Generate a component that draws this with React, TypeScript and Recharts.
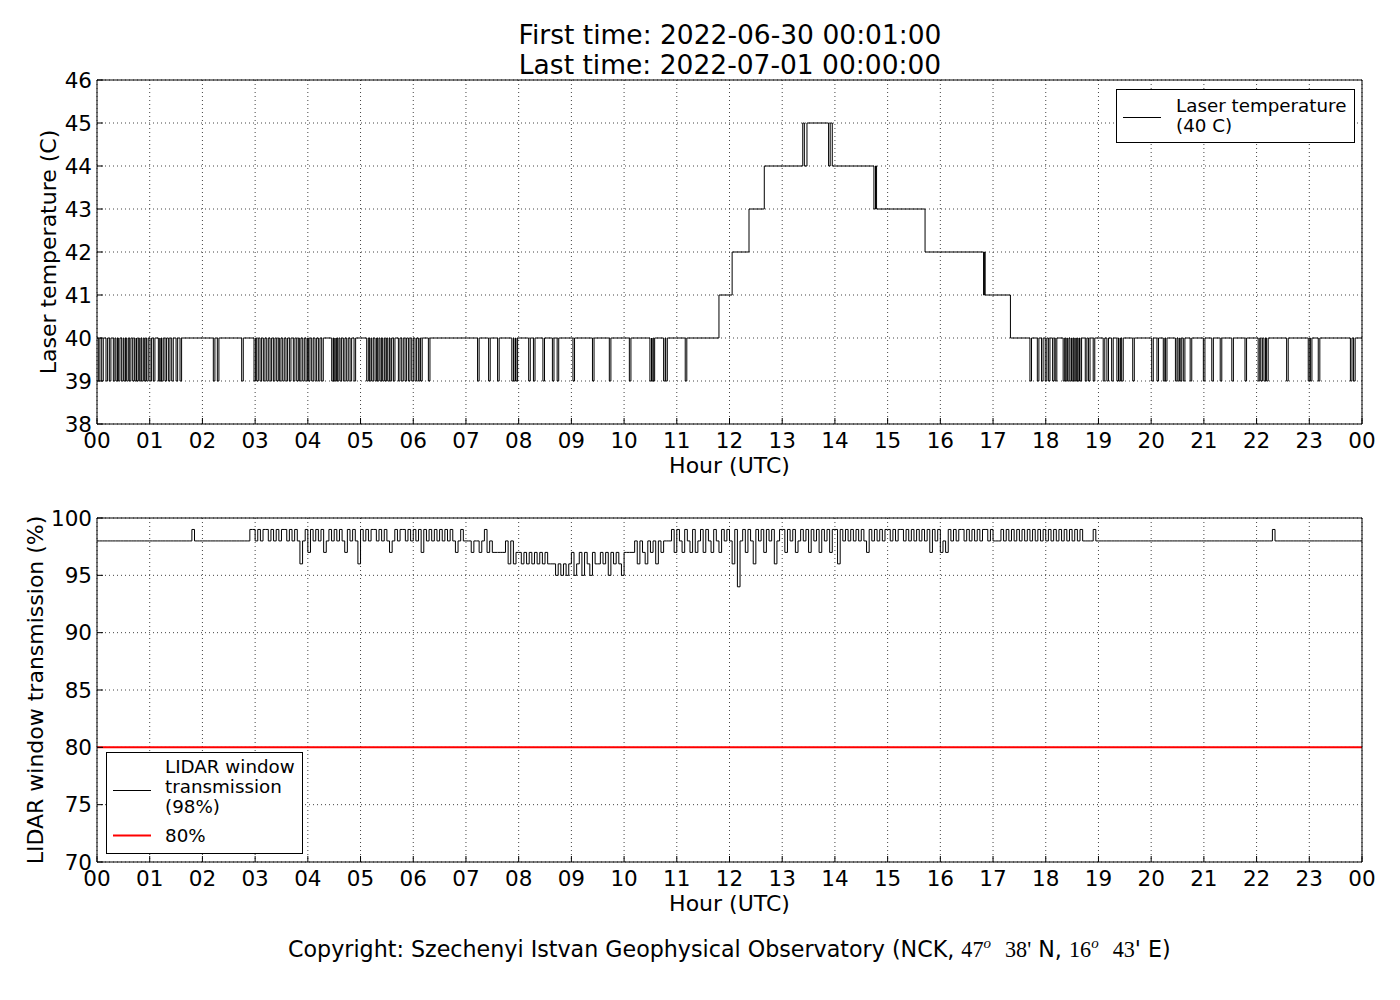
import {
  LineChart,
  Line,
  XAxis,
  YAxis,
  CartesianGrid,
  ReferenceLine,
  Legend
} from "recharts";

// x axis: hours of the day (UTC)
const hourTicks = [0, 1, 2, 3, 4, 5, 6, 7, 8, 9, 10, 11, 12, 13, 14, 15, 16, 17, 18, 19, 20, 21, 22, 23, 24];
const hourLabels = ["00", "01", "02", "03", "04", "05", "06", "07", "08", "09", "10", "11", "12", "13", "14", "15", "16", "17", "18", "19", "20", "21", "22", "23", "00"];

const tempTicks = [38, 39, 40, 41, 42, 43, 44, 45, 46];
const transTicks = [70, 75, 80, 85, 90, 95, 100];

// laser temperature sits at 40 C, these are the moments it flickers down to 39 C
const DIP_WIDTH = 0.03;
const tempDips = [
  0.025, 0.089, 0.171, 0.234, 0.31, 0.36, 0.405, 0.468, 0.512, 0.563, 0.613, 0.677, 0.721, 0.753,
  0.803, 0.848, 0.898, 0.942, 1.006, 1.069, 1.164, 1.195, 1.227, 1.29, 1.354, 1.417, 1.5, 1.575,
  2.207, 2.283, 2.745,
  2.979, 3.03, 3.093, 3.156, 3.22, 3.283, 3.346, 3.409, 3.46, 3.523, 3.586, 3.65, 3.725, 3.789,
  3.839, 3.903, 3.966, 4.01, 4.073, 4.137, 4.2, 4.263, 4.453, 4.484, 4.516, 4.56, 4.611, 4.674,
  4.737, 4.801, 4.877,
  5.117, 5.168, 5.212, 5.275, 5.319, 5.37, 5.42, 5.465, 5.516, 5.56, 5.623, 5.718, 5.781, 5.844,
  5.908, 5.971, 6.034, 6.097, 6.14, 6.287,
  7.22, 7.43, 7.6, 7.87, 7.91, 7.95, 8.19, 8.28, 8.46, 8.64, 8.73, 9.03, 9.4, 9.72, 10.1, 10.49,
  10.52, 10.55, 10.75, 10.79, 11.16,
  17.7, 17.84, 17.92, 17.99, 18.05, 18.13, 18.18, 18.33, 18.37, 18.41, 18.46, 18.5, 18.54, 18.58,
  18.61, 18.65, 18.75, 18.81, 18.9, 19.09, 19.16, 19.25, 19.35, 19.39, 19.44, 19.65, 20.01, 20.11,
  20.23, 20.27, 20.46, 20.51, 20.55, 20.61, 20.74, 20.99, 21.15, 21.31, 21.53, 21.78, 22.03, 22.08,
  22.14, 22.19, 22.57, 22.98, 23.02, 23.17, 23.78, 23.84
];

// midday warm-up: [hour, new temperature]
const tempSteps: [number, number][] = [
  [11.8, 41], [12.05, 42], [12.37, 43], [12.66, 44], [13.39, 45], [13.42, 44], [13.47, 45],
  [13.88, 44], [13.91, 45], [13.95, 44], [14.74, 43], [14.77, 44], [14.79, 43], [15.71, 42],
  [16.82, 41], [16.84, 42], [16.85, 41], [17.33, 40]
];

// window transmission (%), one row per hour, a reading every 3 minutes
const SAMPLE_STEP = 0.05;
const transmissionByHour = [
  [98, 98, 98, 98, 98, 98, 98, 98, 98, 98, 98, 98, 98, 98, 98, 98, 98, 98, 98, 98],
  [98, 98, 98, 98, 98, 98, 98, 98, 98, 98, 98, 98, 98, 98, 98, 98, 99, 98, 98, 98],
  [98, 98, 98, 98, 98, 98, 98, 98, 98, 98, 98, 98, 98, 98, 98, 98, 98, 98, 99, 99],
  [98, 99, 98, 99, 99, 98, 99, 98, 99, 98, 99, 99, 98, 99, 98, 99, 98, 96, 98, 99],
  [97, 99, 98, 99, 98, 99, 97, 98, 99, 98, 99, 98, 99, 98, 97, 99, 98, 99, 98, 96],
  [99, 98, 99, 98, 99, 99, 98, 99, 98, 99, 98, 97, 98, 99, 98, 99, 99, 98, 99, 98],
  [99, 98, 99, 97, 99, 98, 99, 98, 99, 98, 99, 98, 99, 98, 99, 98, 97, 98, 99, 98],
  [98, 98, 97, 98, 98, 97, 98, 99, 97, 98, 97, 97, 97, 97, 97, 98, 96, 98, 96, 97],
  [97, 96, 97, 96, 97, 96, 97, 96, 97, 96, 97, 96, 96, 96, 95, 96, 95, 96, 95, 96],
  [97, 95, 96, 97, 95, 97, 96, 95, 97, 96, 96, 97, 96, 97, 95, 97, 96, 97, 96, 95],
  [97, 97, 97, 97, 98, 96, 98, 97, 96, 98, 97, 98, 96, 98, 97, 98, 98, 98, 99, 97],
  [99, 98, 97, 99, 98, 97, 99, 97, 98, 99, 97, 99, 98, 97, 99, 98, 97, 99, 98, 99],
  [98, 96, 99, 94, 98, 99, 97, 99, 98, 96, 99, 98, 99, 97, 99, 98, 99, 96, 98, 99],
  [99, 97, 99, 98, 99, 97, 98, 99, 98, 99, 97, 99, 98, 99, 97, 99, 98, 99, 97, 99],
  [99, 96, 99, 98, 99, 98, 99, 98, 99, 98, 99, 98, 97, 99, 98, 99, 98, 99, 98, 99],
  [99, 98, 99, 98, 99, 99, 98, 99, 98, 99, 98, 99, 98, 99, 98, 99, 97, 99, 98, 99],
  [97, 98, 97, 99, 98, 99, 98, 99, 99, 98, 99, 98, 99, 98, 99, 98, 99, 99, 98, 99],
  [98, 98, 98, 99, 98, 99, 98, 99, 98, 99, 98, 99, 98, 99, 98, 99, 98, 99, 98, 99],
  [98, 99, 98, 99, 98, 99, 98, 99, 98, 99, 98, 99, 98, 99, 98, 98, 98, 98, 99, 98],
  [98, 98, 98, 98, 98, 98, 98, 98, 98, 98, 98, 98, 98, 98, 98, 98, 98, 98, 98, 98],
  [98, 98, 98, 98, 98, 98, 98, 98, 98, 98, 98, 98, 98, 98, 98, 98, 98, 98, 98, 98],
  [98, 98, 98, 98, 98, 98, 98, 98, 98, 98, 98, 98, 98, 98, 98, 98, 98, 98, 98, 98],
  [98, 98, 98, 98, 98, 98, 99, 98, 98, 98, 98, 98, 98, 98, 98, 98, 98, 98, 98, 98],
  [98, 98, 98, 98, 98, 98, 98, 98, 98, 98, 98, 98, 98, 98, 98, 98, 98, 98, 98, 98]
];

const THRESHOLD = 80;

type Point = { h: number; v: number };

function buildTemperature(): Point[] {
  const pts: Point[] = [{ h: 0, v: 40 }];
  tempDips.forEach((t) => {
    pts.push({ h: t, v: 39 });
    pts.push({ h: t + DIP_WIDTH, v: 40 });
  });
  tempSteps.forEach(([h, v]) => pts.push({ h, v }));
  pts.push({ h: 24, v: 40 });
  return pts.sort((a, b) => a.h - b.h);
}

function buildTransmission(): Point[] {
  const pts: Point[] = transmissionByHour.flatMap((row, hour) =>
    row.map((v, i) => ({ h: hour + i * SAMPLE_STEP, v }))
  );
  pts.push({ h: 24, v: 98 });
  return pts;
}

const tempData = buildTemperature();
const transData = buildTransmission();

const tickFont = { fontSize: 21.5, fill: "#000" };
const labelFont = { fontSize: 22, fill: "#000", textAnchor: "middle" as const };
const fmtHour = (h: number) => hourLabels[hourTicks.indexOf(h)] ?? "";
const mathFont = "'Liberation Serif', serif";

function TempLegend() {
  return (
    <svg width={239} height={54} style={{ display: "block" }}>
      <rect x={0.5} y={0.5} width={238} height={53} fill="#fff" stroke="#000" />
      <line x1={7} x2={45} y1={28.5} y2={28.5} stroke="#000" strokeWidth={1} />
      <text x={60} y={22.5} fontSize={18.3} fill="#000">Laser temperature</text>
      <text x={60} y={42.5} fontSize={18.3} fill="#000">(40 C)</text>
    </svg>
  );
}

function TransLegend() {
  return (
    <svg width={197} height={102} style={{ display: "block" }}>
      <rect x={0.5} y={0.5} width={196} height={101} fill="#fff" stroke="#000" />
      <line x1={7} x2={45} y1={38.5} y2={38.5} stroke="#000" strokeWidth={1} />
      <text x={59} y={21} fontSize={18.3} fill="#000">LIDAR window</text>
      <text x={59} y={41} fontSize={18.3} fill="#000">transmission</text>
      <text x={59} y={61} fontSize={18.3} fill="#000">(98%)</text>
      <line x1={7} x2={45} y1={83.5} y2={83.5} stroke="#ff0000" strokeWidth={2} />
      <text x={59} y={89.5} fontSize={18.3} fill="#000">80%</text>
    </svg>
  );
}

export default function App() {
  return (
    <div
      style={{
        position: "absolute",
        left: 0,
        top: 0,
        width: 1400,
        height: 1000,
        background: "#fff",
        fontFamily: "'DejaVu Sans', sans-serif"
      }}
    >
      <div style={{ position: "absolute", left: 0, top: 0 }}>
        <LineChart width={1400} height={480} margin={{ top: 79, right: 37, bottom: 0, left: 7 }}>
          <CartesianGrid stroke="#444" strokeDasharray="1 3" />
          <XAxis
            dataKey="h"
            type="number"
            domain={[0, 24]}
            ticks={hourTicks}
            interval={0}
            allowDataOverflow
            tickFormatter={fmtHour}
            tick={tickFont}
            tickSize={-6}
            tickMargin={15}
            height={56}
            stroke="#000"
            label={{ value: "Hour (UTC)", position: "insideBottom", offset: 7, style: labelFont }}
          />
          <XAxis
            xAxisId="top"
            orientation="top"
            type="number"
            domain={[0, 24]}
            ticks={hourTicks}
            interval={0}
            allowDataOverflow
            tick={false}
            tickSize={-6}
            height={1}
            stroke="#000"
          />
          <YAxis
            type="number"
            domain={[38, 46]}
            ticks={tempTicks}
            interval={0}
            allowDataOverflow
            tick={tickFont}
            tickSize={-6}
            tickMargin={11}
            width={90}
            stroke="#000"
            label={{ value: "Laser temperature (C)", angle: -90, position: "insideLeft", offset: 41, style: labelFont }}
          />
          <YAxis
            yAxisId="right"
            orientation="right"
            type="number"
            domain={[38, 46]}
            ticks={tempTicks}
            interval={0}
            allowDataOverflow
            tick={false}
            tickSize={-6}
            width={1}
            stroke="#000"
          />
          <Line
            data={tempData}
            dataKey="v"
            type="stepAfter"
            stroke="#000"
            strokeWidth={1}
            dot={false}
            isAnimationActive={false}
          />
          <Legend
            layout="vertical"
            align="center"
            verticalAlign="middle"
            content={() => <TempLegend />}
            wrapperStyle={{ left: 1116, top: 89, width: 239, height: 54 }}
          />
        </LineChart>
      </div>

      <div style={{ position: "absolute", left: 0, top: 480 }}>
        <LineChart width={1400} height={440} margin={{ top: 37, right: 37, bottom: 2, left: 7 }}>
          <CartesianGrid stroke="#444" strokeDasharray="1 3" />
          <XAxis
            dataKey="h"
            type="number"
            domain={[0, 24]}
            ticks={hourTicks}
            interval={0}
            allowDataOverflow
            tickFormatter={fmtHour}
            tick={tickFont}
            tickSize={-6}
            tickMargin={15}
            height={56}
            stroke="#000"
            label={{ value: "Hour (UTC)", position: "insideBottom", offset: 7, style: labelFont }}
          />
          <XAxis
            xAxisId="top"
            orientation="top"
            type="number"
            domain={[0, 24]}
            ticks={hourTicks}
            interval={0}
            allowDataOverflow
            tick={false}
            tickSize={-6}
            height={1}
            stroke="#000"
          />
          <YAxis
            type="number"
            domain={[70, 100]}
            ticks={transTicks}
            interval={0}
            allowDataOverflow
            tick={tickFont}
            tickSize={-6}
            tickMargin={11}
            width={90}
            stroke="#000"
            label={{ value: "LIDAR window transmission (%)", angle: -90, position: "insideLeft", offset: 28, style: labelFont }}
          />
          <YAxis
            yAxisId="right"
            orientation="right"
            type="number"
            domain={[70, 100]}
            ticks={transTicks}
            interval={0}
            allowDataOverflow
            tick={false}
            tickSize={-6}
            width={1}
            stroke="#000"
          />
          <ReferenceLine y={THRESHOLD} stroke="#ff0000" strokeWidth={2} />
          <Line
            data={transData}
            dataKey="v"
            type="stepAfter"
            stroke="#000"
            strokeWidth={1}
            dot={false}
            isAnimationActive={false}
          />
          <Legend
            layout="vertical"
            align="center"
            verticalAlign="middle"
            content={() => <TransLegend />}
            wrapperStyle={{ left: 106, top: 272, width: 197, height: 102 }}
          />
        </LineChart>
      </div>

      <svg
        width={1400}
        height={1000}
        style={{ position: "absolute", left: 0, top: 0, pointerEvents: "none" }}
      >
        <text x={730} y={44} textAnchor="middle" fontSize={26.5} fill="#000">
          First time: 2022-06-30 00:01:00
        </text>
        <text x={730} y={74} textAnchor="middle" fontSize={26.5} fill="#000">
          Last time: 2022-07-01 00:00:00
        </text>
        <text x={288} y={957} fontSize={22.2} fill="#000">
          <tspan>Copyright: Szechenyi Istvan Geophysical Observatory (NCK, </tspan>
          <tspan fontFamily={mathFont}>47</tspan>
          <tspan fontFamily={mathFont} fontStyle="italic" fontSize={15} dy={-9}>o</tspan>
          <tspan fontFamily={mathFont} dy={9} dx={14}>38'</tspan>
          <tspan> N, </tspan>
          <tspan fontFamily={mathFont}>16</tspan>
          <tspan fontFamily={mathFont} fontStyle="italic" fontSize={15} dy={-9}>o</tspan>
          <tspan fontFamily={mathFont} dy={9} dx={14}>43</tspan>
          <tspan>' E)</tspan>
        </text>
      </svg>
    </div>
  );
}
